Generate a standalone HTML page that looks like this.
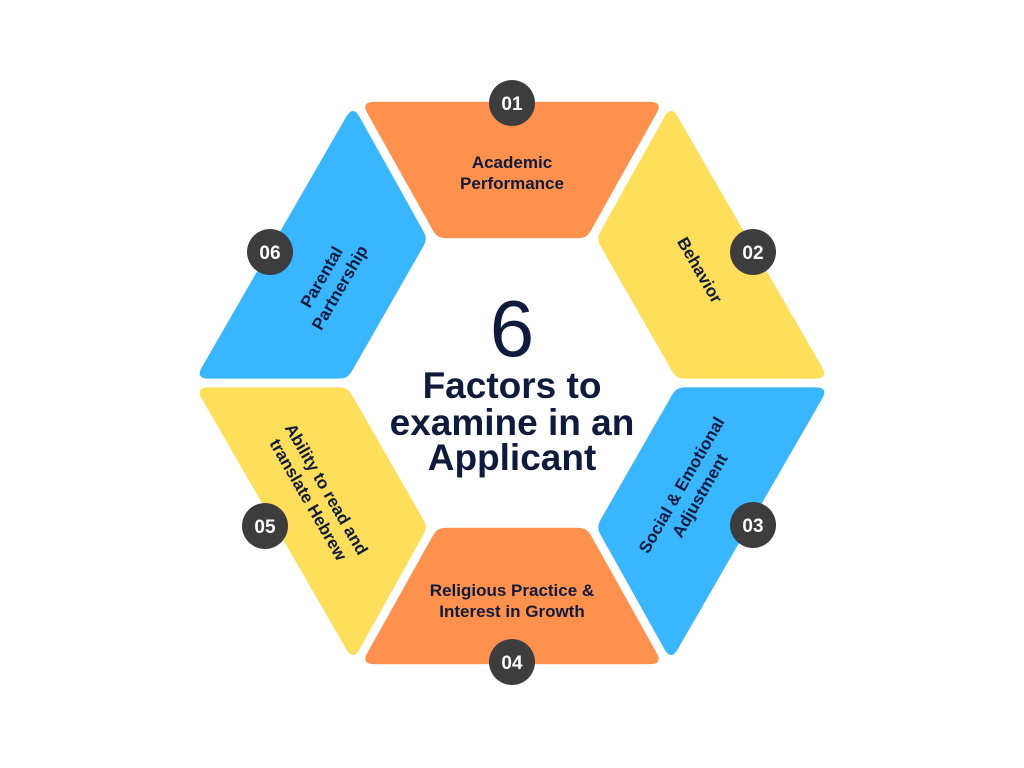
<!DOCTYPE html>
<html><head><meta charset="utf-8"><style>
html,body{margin:0;padding:0;background:#fff;}
svg{display:block;}
text{font-family:"Liberation Sans",sans-serif;fill:#0f1b3d;font-weight:bold;}
</style></head><body>
<svg width="1024" height="768" viewBox="0 0 1024 768">
<defs>
<filter id="rnd" x="-10%" y="-10%" width="120%" height="120%" color-interpolation-filters="sRGB">
<feGaussianBlur in="SourceGraphic" stdDeviation="4.5" result="b"/>
<feComponentTransfer in="b"><feFuncA type="linear" slope="30" intercept="-14"/></feComponentTransfer>
</filter>
<mask id="m" maskUnits="userSpaceOnUse" x="0" y="0" width="1024" height="768">
<rect width="1024" height="768" fill="#fff"/>
<g stroke="#000" stroke-width="9">
<line x1="340" y1="73" x2="440" y2="252"/>
<line x1="684" y1="73" x2="584" y2="252"/>
<line x1="170" y1="383" x2="360" y2="383"/>
<line x1="854" y1="383" x2="664" y2="383"/>
<line x1="340" y1="693" x2="440" y2="514"/>
<line x1="684" y1="693" x2="584" y2="514"/>
</g>
<polygon points="345,383 428,238 596,238 679,383 596,528 428,528" fill="#000"/>
</mask>
</defs>
<g filter="url(#rnd)"><g mask="url(#m)"><polygon points="355,102 669,102 596,238 428,238" fill="#FF914D"/></g></g>
<g filter="url(#rnd)"><g mask="url(#m)"><polygon points="669,102 831,383 679,383 596,238" fill="#FFDE59"/></g></g>
<g filter="url(#rnd)"><g mask="url(#m)"><polygon points="831,383 669,664 596,528 679,383" fill="#38B6FF"/></g></g>
<g filter="url(#rnd)"><g mask="url(#m)"><polygon points="669,664 355,664 428,528 596,528" fill="#FF914D"/></g></g>
<g filter="url(#rnd)"><g mask="url(#m)"><polygon points="355,664 193,383 345,383 428,528" fill="#FFDE59"/></g></g>
<g filter="url(#rnd)"><g mask="url(#m)"><polygon points="193,383 355,102 428,238 345,383" fill="#38B6FF"/></g></g>
<g fill="#3d3d3d">
<circle cx="512" cy="103" r="23"/><circle cx="753" cy="252" r="23"/><circle cx="753" cy="525" r="23"/>
<circle cx="512" cy="662" r="23"/><circle cx="265" cy="526" r="23"/><circle cx="270" cy="252" r="23"/>
</g>
<g font-size="19" text-anchor="middle">
<text x="512" y="110" style="fill:#fff">01</text><text x="753" y="259" style="fill:#fff">02</text><text x="753" y="532" style="fill:#fff">03</text>
<text x="512" y="669" style="fill:#fff">04</text><text x="265" y="533" style="fill:#fff">05</text><text x="270" y="259" style="fill:#fff">06</text>
</g>
<g font-size="17" text-anchor="middle">
<text x="512" y="168">Academic</text><text x="512" y="189">Performance</text>
<text x="512" y="596">Religious Practice &amp;</text><text x="512" y="617">Interest in Growth</text>
<text transform="translate(700,270) rotate(60)" y="6">Behavior</text>
<g transform="translate(330,282) rotate(-60)"><text y="-4">Parental</text><text y="17">Partnership</text></g>
<g transform="translate(690,490) rotate(-60)"><text y="-4">Social &amp; Emotional</text><text y="17">Adjustment</text></g>
<g transform="translate(318,494) rotate(60)"><text y="-4">Ability to read and</text><text y="17">translate Hebrew</text></g>
</g>
<text x="512" y="356" font-size="80" text-anchor="middle" style="font-weight:normal">6</text>
<g font-size="37" text-anchor="middle">
<text x="512" y="398">Factors to</text><text x="512" y="435">examine in an</text><text x="512" y="470">Applicant</text>
</g>
</svg>
</body></html>
